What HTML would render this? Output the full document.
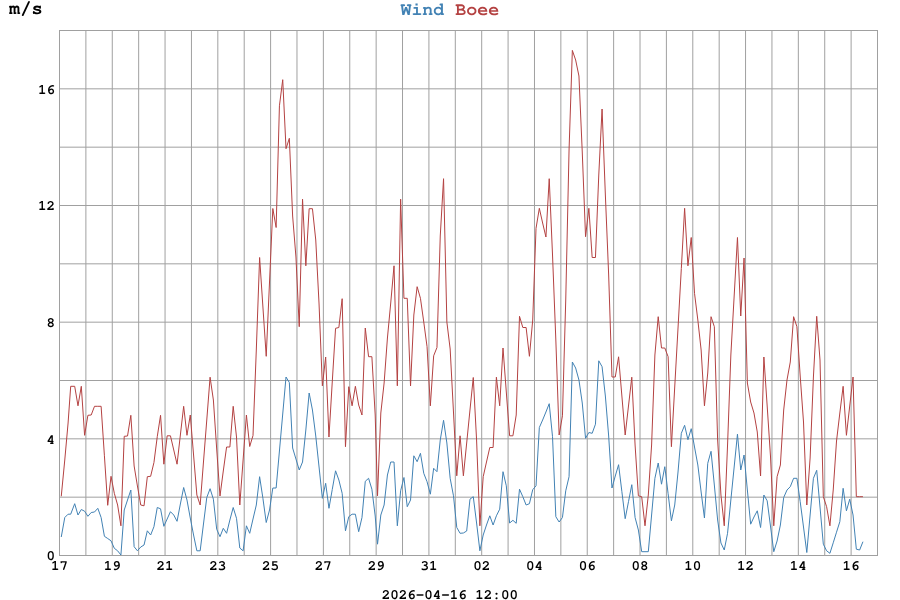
<!DOCTYPE html><html><head><meta charset="utf-8"><title>Wind Boee</title><style>html,body{margin:0;padding:0;background:#fff;width:900px;height:600px;overflow:hidden}svg{display:block}text{font-family:"FreeMono","Liberation Mono","DejaVu Sans Mono",monospace;font-weight:bold;text-rendering:geometricPrecision}</style></head><body>
<svg width="900" height="600" viewBox="0 0 900 600">
<rect x="0" y="0" width="900" height="600" fill="#ffffff"/>
<path d="M85.89 30.5V555.5M112.27 30.5V555.5M138.66 30.5V555.5M165.05 30.5V555.5M191.44 30.5V555.5M217.82 30.5V555.5M244.21 30.5V555.5M270.60 30.5V555.5M296.98 30.5V555.5M323.37 30.5V555.5M349.76 30.5V555.5M376.15 30.5V555.5M402.53 30.5V555.5M428.92 30.5V555.5M455.31 30.5V555.5M481.69 30.5V555.5M508.08 30.5V555.5M534.47 30.5V555.5M560.85 30.5V555.5M587.24 30.5V555.5M613.63 30.5V555.5M640.02 30.5V555.5M666.40 30.5V555.5M692.79 30.5V555.5M719.18 30.5V555.5M745.56 30.5V555.5M771.95 30.5V555.5M798.34 30.5V555.5M824.73 30.5V555.5M851.11 30.5V555.5M59.5 497.17H877.5M59.5 438.83H877.5M59.5 380.50H877.5M59.5 322.17H877.5M59.5 263.83H877.5M59.5 205.50H877.5M59.5 147.17H877.5M59.5 88.83H877.5" stroke="#a0a0a0" stroke-width="1.0" fill="none"/>
<rect x="59.5" y="30.5" width="818.0" height="525.0" stroke="#a0a0a0" stroke-width="1.0" fill="none"/>
<text transform="translate(55.0,560.40) scale(1,1)" font-size="14.2" text-anchor="end" fill="#000">0</text>
<text transform="translate(55.0,443.73) scale(1,1)" font-size="14.2" text-anchor="end" fill="#000">4</text>
<text transform="translate(55.0,327.07) scale(1,1)" font-size="14.2" text-anchor="end" fill="#000">8</text>
<text transform="translate(55.0,210.40) scale(1,1)" font-size="14.2" text-anchor="end" fill="#000">12</text>
<text transform="translate(55.0,93.73) scale(1,1)" font-size="14.2" text-anchor="end" fill="#000">16</text>
<text transform="translate(59.50,570.0) scale(1,1)" font-size="14.2" text-anchor="middle" fill="#000">17</text>
<text transform="translate(112.27,570.0) scale(1,1)" font-size="14.2" text-anchor="middle" fill="#000">19</text>
<text transform="translate(165.05,570.0) scale(1,1)" font-size="14.2" text-anchor="middle" fill="#000">21</text>
<text transform="translate(217.82,570.0) scale(1,1)" font-size="14.2" text-anchor="middle" fill="#000">23</text>
<text transform="translate(270.60,570.0) scale(1,1)" font-size="14.2" text-anchor="middle" fill="#000">25</text>
<text transform="translate(323.37,570.0) scale(1,1)" font-size="14.2" text-anchor="middle" fill="#000">27</text>
<text transform="translate(376.15,570.0) scale(1,1)" font-size="14.2" text-anchor="middle" fill="#000">29</text>
<text transform="translate(428.92,570.0) scale(1,1)" font-size="14.2" text-anchor="middle" fill="#000">31</text>
<text transform="translate(481.69,570.0) scale(1,1)" font-size="14.2" text-anchor="middle" fill="#000">02</text>
<text transform="translate(534.47,570.0) scale(1,1)" font-size="14.2" text-anchor="middle" fill="#000">04</text>
<text transform="translate(587.24,570.0) scale(1,1)" font-size="14.2" text-anchor="middle" fill="#000">06</text>
<text transform="translate(640.02,570.0) scale(1,1)" font-size="14.2" text-anchor="middle" fill="#000">08</text>
<text transform="translate(692.79,570.0) scale(1,1)" font-size="14.2" text-anchor="middle" fill="#000">10</text>
<text transform="translate(745.56,570.0) scale(1,1)" font-size="14.2" text-anchor="middle" fill="#000">12</text>
<text transform="translate(798.34,570.0) scale(1,1)" font-size="14.2" text-anchor="middle" fill="#000">14</text>
<text transform="translate(851.11,570.0) scale(1,1)" font-size="14.2" text-anchor="middle" fill="#000">16</text>
<polyline points="61.25,537.00 64.78,517.50 68.09,514.20 70.70,514.20 74.69,503.70 77.99,515.00 81.30,509.50 84.60,511.20 87.90,516.30 91.20,512.50 94.50,512.00 97.81,508.30 101.11,517.50 104.41,536.30 107.71,538.50 111.02,540.80 114.32,548.30 117.62,550.80 120.92,555.00 124.22,510.00 127.53,500.00 130.83,490.00 134.13,546.70 137.43,550.80 140.74,547.00 144.04,545.00 147.34,530.80 150.64,535.00 153.94,526.70 157.25,507.50 160.55,508.80 163.85,526.30 167.15,519.00 170.45,511.70 173.76,515.00 177.06,521.30 180.36,504.00 183.66,487.50 186.97,500.00 190.27,518.00 193.57,535.00 196.87,550.80 200.17,550.80 203.48,524.00 206.78,497.50 210.08,488.70 213.38,499.20 216.69,529.20 219.99,536.70 223.29,528.30 226.59,533.30 229.89,520.00 233.20,507.50 236.50,518.30 239.80,548.00 243.10,550.80 246.41,525.80 249.71,533.30 253.01,519.00 256.31,505.00 259.61,476.70 262.92,498.30 266.22,522.50 269.52,510.00 272.82,488.00 276.13,488.00 279.43,451.00 282.73,414.00 286.03,377.00 289.33,382.50 292.64,448.00 295.94,459.00 299.24,470.00 302.54,462.00 305.84,430.00 309.15,393.00 312.45,410.00 315.75,436.00 319.05,467.00 322.36,498.30 325.66,483.30 328.96,508.30 332.26,489.50 335.56,470.80 338.87,480.00 342.17,493.30 345.47,530.80 348.77,516.70 352.08,514.20 355.38,514.20 358.68,531.70 361.98,517.50 365.28,481.30 368.59,478.30 371.89,489.20 375.19,516.00 377.52,544.20 380.82,515.00 384.12,505.00 387.43,475.00 390.73,462.00 394.03,462.00 397.33,525.80 400.63,490.80 403.94,477.50 407.24,506.70 410.54,500.00 413.84,455.80 417.14,461.70 420.45,453.30 423.75,473.30 427.05,481.70 430.35,494.20 433.66,468.30 436.96,471.70 440.26,440.00 443.56,420.30 446.86,443.00 450.17,478.30 453.47,495.80 456.77,527.50 460.07,533.30 463.38,533.00 466.68,531.00 469.98,499.20 473.28,496.70 476.58,523.00 479.89,550.80 483.19,535.00 486.49,525.00 489.79,515.80 493.10,525.00 496.40,515.80 499.70,509.20 503.00,471.70 506.30,485.80 509.61,523.00 512.91,520.30 516.21,523.30 519.51,489.20 522.82,496.70 526.12,505.00 529.42,503.70 532.72,489.70 536.02,485.80 539.33,427.50 542.63,420.00 545.93,412.00 549.23,403.70 552.53,436.70 555.84,516.70 559.14,522.00 562.44,517.50 565.74,490.80 569.05,476.70 572.35,362.00 575.65,368.00 578.95,380.00 582.25,403.00 585.56,438.30 588.86,432.50 592.16,433.30 595.46,424.20 598.77,360.80 602.07,366.70 605.37,396.00 608.67,436.00 611.97,488.00 615.28,476.00 618.58,464.70 621.88,491.70 625.18,518.70 628.49,501.70 631.79,484.70 635.09,517.50 638.39,530.00 641.69,551.70 645.00,551.70 648.30,551.70 651.60,515.00 654.90,478.30 658.21,463.00 661.51,484.20 664.81,466.70 668.11,493.70 671.41,520.80 674.72,505.00 678.02,472.00 681.32,433.30 684.62,425.30 687.93,439.70 691.23,428.70 694.53,447.00 697.83,465.00 701.13,492.00 704.44,518.00 707.74,463.30 711.04,451.30 714.34,485.00 717.64,520.00 720.95,543.00 724.25,550.00 727.55,533.30 730.85,500.00 734.16,467.00 737.46,434.20 740.76,470.00 744.06,455.00 747.36,490.00 750.67,524.20 753.97,517.00 757.27,510.80 760.57,527.50 763.88,495.00 767.18,500.80 770.48,526.00 773.78,551.70 777.08,541.00 780.39,525.00 783.69,497.50 786.99,490.00 790.29,486.70 793.60,478.30 796.90,478.30 800.20,501.70 803.50,527.00 806.80,552.50 810.11,515.00 813.41,478.30 816.71,470.30 820.01,507.00 823.32,544.20 826.62,550.80 829.92,553.30 833.22,542.80 836.52,532.20 839.83,521.70 843.13,488.30 846.43,510.80 849.73,499.20 853.04,515.00 856.34,549.20 859.64,550.00 862.94,541.70" stroke="#4282b4" stroke-width="1.0" fill="none" stroke-linejoin="miter" stroke-miterlimit="3"/>
<polyline points="61.25,496.30 64.78,460.00 68.09,423.00 70.70,386.30 74.69,386.30 77.99,405.80 81.30,386.30 84.60,435.30 87.90,415.30 91.20,415.00 94.50,406.30 97.81,406.30 101.11,406.30 104.41,455.80 107.71,505.30 111.02,476.30 114.32,493.30 117.62,505.00 120.92,525.80 124.22,436.30 127.53,436.00 130.83,415.30 134.13,466.00 137.43,486.00 140.74,505.00 144.04,505.80 147.34,476.70 150.64,476.30 153.94,462.50 157.25,436.70 160.55,415.30 163.85,464.20 167.15,435.80 170.45,435.80 173.76,450.00 177.06,464.20 180.36,435.00 183.66,406.30 186.97,435.30 190.27,415.00 193.57,455.00 196.87,495.00 200.17,505.00 203.48,462.00 206.78,420.00 210.08,377.20 213.38,400.00 216.69,449.00 219.99,496.00 223.29,471.00 226.59,447.00 229.89,447.00 233.20,406.30 236.50,437.00 239.80,505.00 243.10,460.00 246.41,415.00 249.71,446.50 253.01,435.50 256.31,350.00 259.61,257.50 262.92,307.00 266.22,356.30 269.52,282.00 272.82,208.50 276.13,227.50 279.43,105.80 282.73,79.70 286.03,148.70 289.33,138.30 292.64,216.00 295.94,257.00 299.24,326.70 302.54,199.20 305.84,265.80 309.15,208.70 312.45,208.70 315.75,240.00 319.05,304.00 322.36,385.80 325.66,357.00 328.96,437.00 332.26,382.00 335.56,328.30 338.87,327.50 342.17,298.70 345.47,446.70 348.77,386.70 352.08,405.80 355.38,386.30 358.68,405.00 361.98,415.00 365.28,328.00 368.59,356.70 371.89,356.70 375.19,415.00 377.52,495.80 380.82,413.00 384.12,383.00 387.43,338.00 390.73,303.00 394.03,265.80 397.33,385.80 400.63,199.20 403.94,298.30 407.24,298.30 410.54,386.00 413.84,315.00 417.14,286.70 420.45,298.30 423.75,322.00 427.05,346.70 430.35,405.80 433.66,355.80 436.96,347.50 440.26,236.00 443.56,178.70 446.86,322.00 450.17,349.00 453.47,412.00 456.77,475.80 460.07,435.80 463.38,475.80 466.68,443.00 469.98,410.00 473.28,377.50 476.58,440.00 479.89,525.80 483.19,476.70 486.49,462.00 489.79,447.50 493.10,447.50 496.40,377.20 499.70,405.80 503.00,348.00 506.30,392.00 509.61,435.80 512.91,435.80 516.21,415.00 519.51,316.30 522.82,327.50 526.12,327.50 529.42,356.30 532.72,320.00 536.02,228.30 539.33,208.30 542.63,223.00 545.93,237.00 549.23,178.70 552.53,255.00 555.84,340.00 559.14,435.00 562.44,415.80 565.74,300.00 569.05,150.00 572.35,50.40 575.65,60.00 578.95,76.00 582.25,152.00 585.56,236.70 588.86,208.30 592.16,257.50 595.46,257.50 598.77,175.00 602.07,109.00 605.37,195.00 608.67,275.00 611.97,377.00 615.28,377.00 618.58,356.80 621.88,396.00 625.18,435.00 628.49,406.00 631.79,377.20 635.09,445.00 638.39,495.80 641.69,496.70 645.00,525.80 648.30,495.00 651.60,445.00 654.90,355.00 658.21,316.70 661.51,348.00 664.81,348.00 668.11,356.70 671.41,446.70 674.72,387.00 678.02,328.00 681.32,268.60 684.62,208.30 687.93,265.80 691.23,237.50 694.53,293.30 697.83,320.00 701.13,350.00 704.44,405.80 707.74,373.00 711.04,316.70 714.34,326.70 717.64,440.00 720.95,495.00 724.25,525.80 727.55,445.00 730.85,355.00 734.16,296.00 737.46,237.50 740.76,316.00 744.06,258.00 747.36,383.00 750.67,402.00 753.97,413.00 757.27,432.00 760.57,476.00 763.88,357.00 767.18,406.00 770.48,456.00 773.78,525.80 777.08,476.70 780.39,465.00 783.69,410.00 786.99,380.00 790.29,362.00 793.60,316.70 796.90,326.70 800.20,376.00 803.50,422.00 806.80,505.00 810.11,458.00 813.41,377.00 816.71,316.30 820.01,360.00 823.32,496.70 826.62,506.70 829.92,525.80 833.22,490.00 836.52,441.00 839.83,413.00 843.13,386.30 846.43,435.30 849.73,406.00 853.04,377.00 856.34,496.70 859.64,496.70 862.94,496.70" stroke="#b44242" stroke-width="1.0" fill="none" stroke-linejoin="miter" stroke-miterlimit="3"/>
<text x="449.8" y="14.5" font-size="18.3" text-anchor="middle"><tspan fill="#4282b4">Wind</tspan> <tspan fill="#b44242">Boee</tspan></text>
<text x="9.0" y="14.3" font-size="18.7" fill="#000">m/s</text>
<text transform="translate(449.8,598.5) scale(1,1)" font-size="14.2" text-anchor="middle" fill="#000">2026-04-16 12:00</text>
</svg></body></html>
